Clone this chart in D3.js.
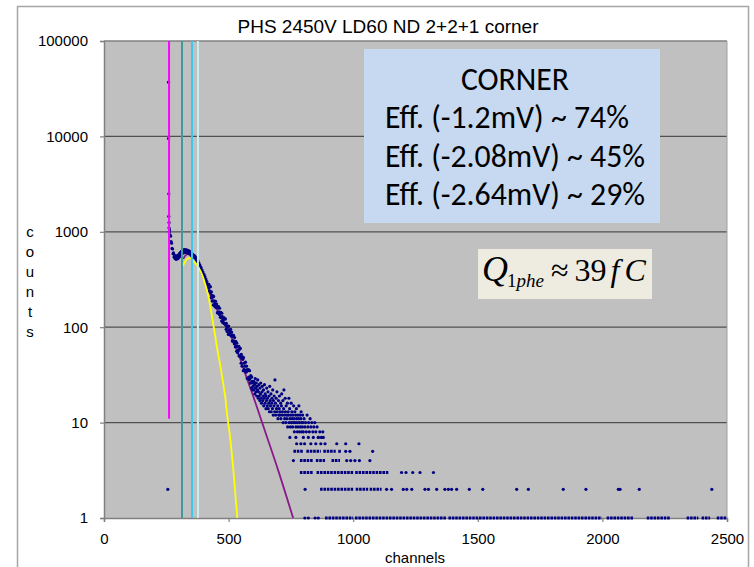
<!DOCTYPE html>
<html>
<head>
<meta charset="utf-8">
<script src="https://cdn.jsdelivr.net/npm/d3@7"></script>
<style>
  body { margin: 0; background: #fff; }
  text { font-family: Arial, "Liberation Sans", sans-serif; fill: #000; }
</style>
</head>
<body>
<svg id="chart" width="754" height="567"></svg>
<script>
const title = "PHS 2450V LD60 ND 2+2+1 corner";
const xLabel = "channels";
const yLabel = "counts";
const xTicks = [0, 500, 1000, 1500, 2000, 2500];
const yTicks = [1, 10, 100, 1000, 10000, 100000];

// measured spectrum, [channel, counts]
const spectrumPeak = [
  [256, 2], [259, 37000], [259, 9500], [260, 2500], [260, 1450], [261, 1250], [261, 1100], [262, 1000],
  [263, 1050], [265, 930], [267, 900], [269, 790], [271, 760], [273, 670], [275, 660], [277, 590],
  [279, 600], [281, 545], [283, 570], [285, 525], [287, 560], [289, 515], [291, 555], [293, 520],
  [295, 560], [297, 525], [299, 575], [301, 540], [303, 590], [305, 560], [307, 610], [309, 575],
  [311, 625], [313, 590], [315, 640], [317, 600], [319, 645], [321, 605], [323, 650], [325, 610],
  [327, 648], [329, 608], [331, 645], [333, 605], [335, 640], [337, 600], [339, 635], [341, 590],
  [343, 625], [345, 585], [347, 615], [349, 570], [351, 600], [353, 555], [355, 585], [357, 545],
  [359, 570], [361, 560], [363, 540], [365, 555], [367, 525], [369, 535], [371, 505], [373, 515],
  [375, 485], [377, 495], [379, 460], [381, 470], [383, 438], [385, 448], [387, 415], [389, 425],
  [391, 392], [393, 400], [395, 368], [397, 378], [399, 350], [401, 358], [403, 330], [405, 340],
  [407, 312], [409, 320], [411, 292], [413, 300], [415, 276], [417, 282], [419, 258]
];
const spectrumSlope = [
  [421, 281], [424, 241], [427, 265], [430, 203], [433, 215], [436, 214], [439, 171], [442, 189],
  [445, 166], [448, 187], [451, 161], [454, 164], [457, 141], [460, 164], [463, 136], [466, 139],
  [469, 143], [472, 116], [475, 129], [478, 116], [481, 126], [484, 110], [487, 122], [490, 95],
  [493, 102], [496, 103], [499, 84], [502, 94], [505, 84], [508, 95], [511, 81], [514, 83],
  [517, 71], [520, 82], [523, 67], [526, 68], [529, 71], [532, 56], [535, 63], [538, 56],
  [541, 63], [544, 50], [547, 60], [550, 42], [553, 47], [556, 49], [559, 35], [562, 42],
  [565, 35], [568, 43], [571, 34], [574, 36], [577, 29], [580, 36], [583, 28], [586, 29],
  [589, 31], [592, 23], [595, 27], [598, 24],
  [422, 239], [425, 266], [428, 228], [431, 235], [434, 188], [437, 207], [440, 210], [443, 169],
  [446, 177], [449, 161], [452, 175], [455, 142], [458, 159], [461, 145], [464, 158], [467, 127],
  [470, 128], [473, 140], [476, 112], [479, 122], [482, 109], [485, 122], [488, 106], [491, 110],
  [494, 90], [497, 100], [500, 103], [503, 85], [506, 89], [509, 82], [512, 89], [515, 72],
  [518, 80], [521, 72], [524, 78], [527, 62], [530, 63], [533, 68], [536, 54], [539, 58],
  [542, 50], [545, 59], [548, 49], [551, 52], [554, 39], [557, 46], [560, 48], [563, 36],
  [566, 39], [569, 34], [572, 39], [575, 29], [578, 35], [581, 30], [584, 35], [587, 26],
  [590, 26], [593, 30], [596, 22], [599, 26]
];
const spectrumTail = [
  [601, 22], [602, 27], [604, 25], [605, 20], [607, 29], [608, 23], [610, 21], [611, 26],
  [613, 19], [614, 24], [616, 22], [617, 28], [619, 18], [620, 21], [622, 25], [623, 19],
  [625, 17], [626, 23], [628, 20], [629, 26], [631, 18], [632, 16], [634, 21], [635, 24],
  [637, 17], [638, 19], [640, 22], [641, 15], [643, 18], [644, 25], [646, 16], [647, 20],
  [649, 19], [650, 14], [652, 17], [653, 23], [655, 15], [656, 18], [658, 21], [659, 14],
  [661, 16], [662, 19], [664, 13], [665, 24], [667, 17], [668, 15], [670, 20], [671, 13],
  [673, 16], [674, 18], [676, 14], [677, 22], [679, 12], [680, 17], [682, 15], [683, 19],
  [685, 13], [686, 28], [688, 16], [689, 12], [691, 18], [692, 14], [694, 21], [695, 13],
  [697, 15], [698, 11], [700, 17], [701, 12], [703, 14], [704, 19], [706, 12], [707, 13],
  [709, 16], [710, 11], [712, 15], [713, 20], [715, 12], [716, 13], [718, 17], [719, 10],
  [721, 14], [722, 22], [724, 12], [725, 11], [727, 18], [728, 13], [730, 10], [731, 15],
  [733, 12], [734, 11], [736, 16], [737, 9], [739, 13], [740, 12], [742, 18], [743, 10],
  [745, 14], [746, 11], [748, 9], [749, 12], [751, 16], [752, 10], [754, 13], [755, 11],
  [757, 9], [758, 12], [760, 10], [761, 15], [763, 11], [764, 8], [766, 13], [767, 10],
  [769, 12], [770, 9], [772, 14], [773, 11], [775, 10], [776, 8], [778, 12], [779, 9],
  [781, 11], [782, 15], [784, 10], [785, 8], [787, 12], [788, 9], [790, 11], [791, 13],
  [793, 10], [794, 8], [796, 9], [797, 12], [799, 10], [800, 8], [803, 11], [806, 9],
  [809, 10], [812, 8], [815, 12], [818, 9], [821, 10], [824, 8], [827, 11], [830, 9],
  [834, 10], [838, 8], [842, 9], [846, 10], [850, 8], [855, 9], [860, 7], [866, 8],
  [872, 7], [878, 8],
  [773, 6], [790, 6], [805, 6], [830, 6], [850, 6], [870, 6], [887, 6], [934, 6], [970, 6], [1023, 6],
  [746, 7], [770, 7], [800, 7], [820, 7], [840, 7], [860, 7], [880, 7],
  [760, 4], [974, 4], [990, 4], [1007, 4], [1025, 4], [1067, 4],
  [970, 5], [987, 5], [1078, 5],
  [1194, 3], [1212, 3], [1239, 3], [1268, 3], [1322, 3],
  [807, 2], [1134, 2], [1154, 2], [1201, 2], [1215, 2], [1235, 2], [1288, 2], [1302, 2],
  [1335, 2], [1368, 2], [1382, 2], [1395, 2], [1415, 2], [1466, 2], [1520, 2], [1656, 2],
  [1703, 2], [1843, 2], [1934, 2], [2064, 2], [2071, 2], [2148, 2], [2439, 2],
  [806, 1], [820, 1], [847, 1], [860, 1]
];

// channel ranges where the low-count rows are filled, [counts, from, to]
const countRuns = [
  [1, 887, 1000], [1, 1007, 1375], [1, 1382, 1997], [1, 2017, 2124], [1, 2178, 2271],
  [1, 2338, 2385], [1, 2398, 2432], [1, 2459, 2499],
  [2, 867, 1000], [2, 1010, 1060], [2, 1066, 1114],
  [3, 786, 840], [3, 853, 1000], [3, 1008, 1141],
  [4, 786, 840], [4, 850, 887], [4, 913, 947],
  [5, 760, 800], [5, 812, 870], [5, 880, 930], [5, 940, 953]
];

const yellowFit = [
  [317, 440], [325, 485], [335, 525], [345, 530], [360, 490], [378, 430], [399, 325], [419, 209],
  [432, 135], [445, 85], [455, 58], [465, 42], [478, 26], [486, 19], [496, 11], [506, 7],
  [520, 3], [535, 1]
];
const purpleFit = [
  [318, 520], [330, 575], [345, 590], [365, 545], [385, 430], [405, 320], [430, 210], [460, 140],
  [490, 100], [520, 70], [545, 48], [566, 33], [600, 18.5], [650, 7.6], [700, 3.1], [759, 1]
];
const pedestalLine = [[261, 100000], [261, 11]];
const cutChannels = [313, 353, 377];
const cutColors = ["#3f9b9b", "#3cc8ec", "#c9eeee"];

const boxTitle = "CORNER";
const boxLines = ["Eff. (-1.2mV) ~ 74%", "Eff. (-2.08mV) ~ 45%", "Eff. (-2.64mV) ~ 29%"];

const svg = d3.select("#chart");
const plot = { left: 104, right: 727, top: 41, bottom: 518 };
const x = d3.scaleLinear().domain([0, 2500]).range([plot.left, plot.right]);
const y = d3.scaleLog().domain([1, 100000]).range([plot.bottom, plot.top]);

// outer frame
svg.append("rect").attr("x", 17.5).attr("y", 6.5).attr("width", 731).attr("height", 600)
  .attr("fill", "none").attr("stroke", "#a6a6a6").attr("stroke-width", 1.5);

svg.append("rect").attr("x", plot.left).attr("y", plot.top)
  .attr("width", plot.right - plot.left).attr("height", plot.bottom - plot.top)
  .attr("fill", "#c0c0c0");

// horizontal grid
svg.append("g").selectAll("line").data(yTicks.slice(1, -1)).join("line")
  .attr("x1", plot.left).attr("x2", plot.right)
  .attr("y1", d => y(d)).attr("y2", d => y(d))
  .attr("stroke", "#505050").attr("stroke-width", 1.2);

// plot frame
svg.append("line").attr("x1", plot.left).attr("x2", plot.right).attr("y1", plot.top).attr("y2", plot.top)
  .attr("stroke", "#808080").attr("stroke-width", 1.5);
svg.append("line").attr("x1", plot.right).attr("x2", plot.right).attr("y1", plot.top).attr("y2", plot.bottom)
  .attr("stroke", "#a0a0a0").attr("stroke-width", 1);

const yAxis = svg.append("g").attr("transform", `translate(${plot.left},0)`)
  .call(d3.axisLeft(y).tickValues(yTicks).tickFormat(d3.format("d")).tickSize(4).tickPadding(12));
const xAxis = svg.append("g").attr("transform", `translate(0,${plot.bottom})`)
  .call(d3.axisBottom(x).tickValues(xTicks).tickFormat(d3.format("d")).tickSize(4).tickPadding(11));
[yAxis, xAxis].forEach(a => {
  a.select(".domain").attr("stroke", "#808080").attr("stroke-width", 1.5);
  a.selectAll(".tick line").attr("stroke", "#808080").attr("stroke-width", 1.2);
  a.selectAll("text").style("font-family", "Arial, 'Liberation Sans', sans-serif")
    .style("font-size", "15px").attr("fill", "#000");
});

const line = d3.line().x(d => x(d[0])).y(d => y(d[1]));
const smooth = d3.line().x(d => x(d[0])).y(d => y(d[1])).curve(d3.curveMonotoneX);

svg.append("path").datum(purpleFit).attr("d", smooth)
  .attr("fill", "none").attr("stroke", "#8a1a8a").attr("stroke-width", 1.8);

// data
const navy = "#000080";
svg.append("g").selectAll("line").data(countRuns).join("line")
  .attr("x1", d => x(d[1])).attr("x2", d => x(d[2]))
  .attr("y1", d => y(d[0])).attr("y2", d => y(d[0]))
  .attr("stroke", navy).attr("stroke-width", 3).attr("stroke-dasharray", "2.6,0.8");
svg.append("g").selectAll("circle").data(spectrumPeak.concat(spectrumSlope, spectrumTail)).join("circle")
  .attr("cx", d => x(d[0])).attr("cy", d => y(d[1])).attr("r", 1.6).attr("fill", navy);

svg.append("path").datum(yellowFit).attr("d", smooth)
  .attr("fill", "none").attr("stroke", "#ffff00").attr("stroke-width", 1.8);

svg.append("path").datum(pedestalLine).attr("d", line)
  .attr("stroke", "#ff00ff").attr("stroke-width", 2);

svg.append("g").selectAll("line").data(cutChannels).join("line")
  .attr("x1", d => x(d)).attr("x2", d => x(d)).attr("y1", plot.top).attr("y2", plot.bottom)
  .attr("stroke", (d, i) => cutColors[i]).attr("stroke-width", 2);

// titles
svg.append("text").attr("x", 388).attr("y", 33).attr("text-anchor", "middle")
  .style("font-size", "19px").text(title);
svg.append("text").attr("x", 415).attr("y", 563).attr("text-anchor", "middle")
  .style("font-size", "15px").text(xLabel);
svg.append("g").selectAll("text").data(yLabel.split("")).join("text")
  .attr("x", 30).attr("y", (d, i) => 237 + i * 20).attr("text-anchor", "middle")
  .style("font-size", "15px").text(d => d);

// info box
svg.append("rect").attr("x", 364).attr("y", 49).attr("width", 296).attr("height", 174).attr("fill", "#c6d9f1");
const box = svg.append("g").style("font-family", "Carlito, Calibri, Lato, 'Open Sans', sans-serif")
  .style("font-size", "26px");
box.append("text").attr("x", 515).attr("y", 90).attr("text-anchor", "middle")
  .style("font-family", "inherit").text(boxTitle);
box.selectAll("text.eff").data(boxLines).join("text").attr("class", "eff")
  .attr("x", 385).attr("y", (d, i) => 128 + i * 38.5)
  .style("font-family", "inherit").text(d => d);
const wRef = box.selectAll("text.eff").nodes()[1].getComputedTextLength();
box.style("font-size", (26 * 260 / wRef) + "px");

// charge box
svg.append("rect").attr("x", 478).attr("y", 249).attr("width", 174).attr("height", 50).attr("fill", "#eeece1");
const f = svg.append("text").attr("x", 482).attr("y", 281)
  .style("font-family", "'Liberation Serif', 'Times New Roman', serif").style("font-size", "32px");
f.append("tspan").style("font-style", "italic").style("font-size", "36px").text("Q");
f.append("tspan").attr("dy", 6).attr("dx", -1).style("font-size", "19px").text("1");
f.append("tspan").style("font-style", "italic").style("font-size", "19px").text("phe");
f.append("tspan").attr("dy", -6).attr("dx", 7).text("\u2248");
f.append("tspan").attr("dx", 6).text("39");
f.append("tspan").attr("dx", 4).style("font-style", "italic").text("f");
f.append("tspan").attr("dx", 5).style("font-style", "italic").text("C");
</script>
</body>
</html>
